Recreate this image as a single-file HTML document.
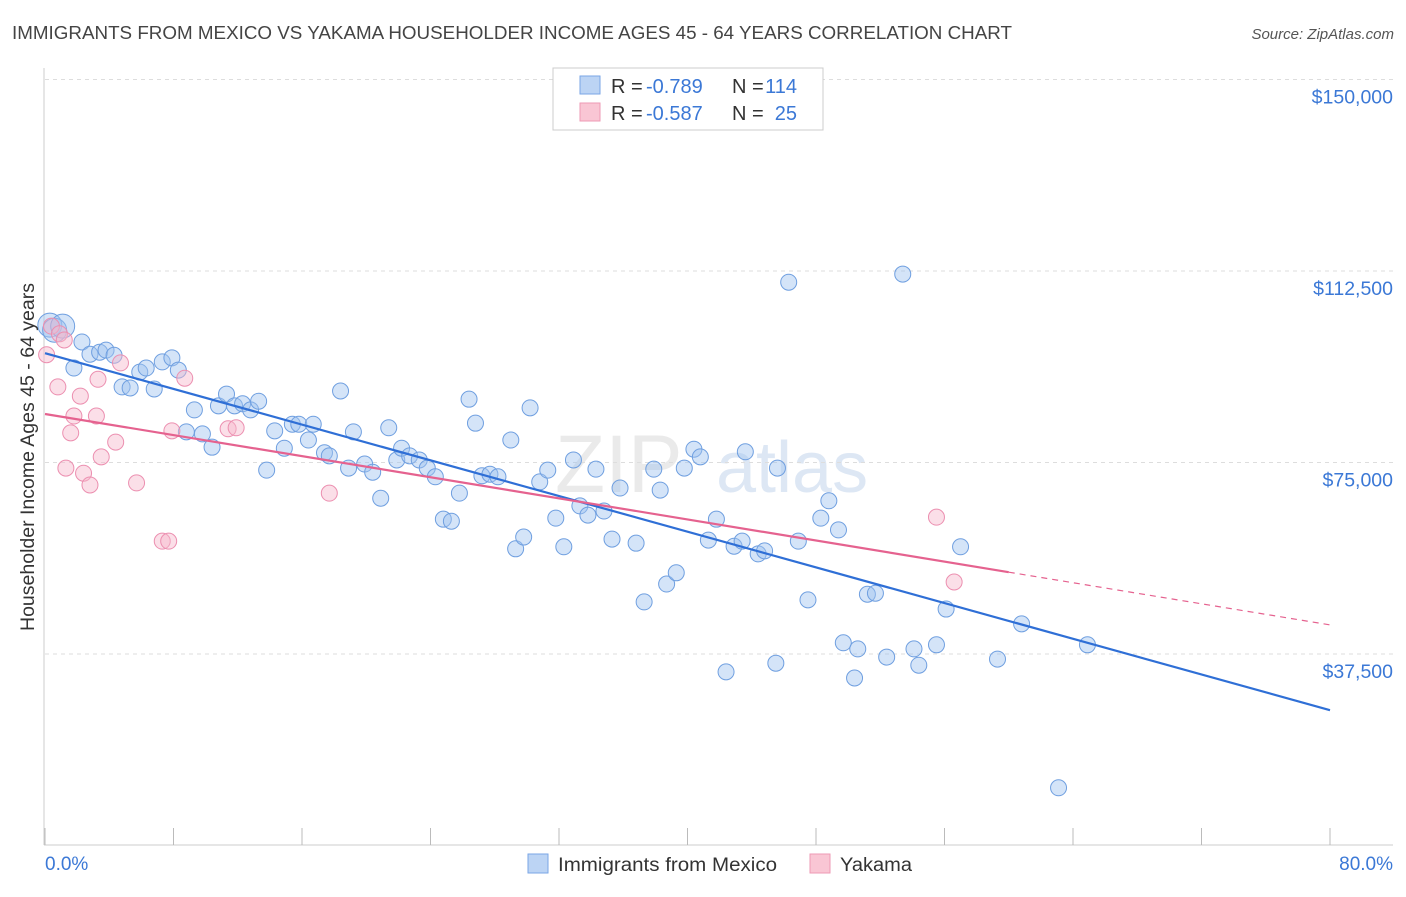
<!DOCTYPE html>
<html><head><meta charset="utf-8"><style>
body{margin:0;background:#fff;font-family:"Liberation Sans",sans-serif;}
svg text{font-family:"Liberation Sans",sans-serif;}
</style></head><body>
<svg id="chart" width="1406" height="892" viewBox="0 0 1406 892" xmlns="http://www.w3.org/2000/svg">
<text x="12" y="39" font-size="18" fill="#444" textLength="1000" lengthAdjust="spacingAndGlyphs">IMMIGRANTS FROM MEXICO VS YAKAMA HOUSEHOLDER INCOME AGES 45 - 64 YEARS CORRELATION CHART</text>
<text x="1394" y="39" font-size="15" fill="#555" text-anchor="end" font-style="italic">Source: ZipAtlas.com</text>
<text x="555" y="492" font-size="82" fill="#ddd" font-family="Liberation Serif" opacity="0.6">ZIP</text>
<text x="716" y="492" font-size="72" fill="#c8d8ee" opacity="0.6">atlas</text>
<g id="grid"></g>
<g id="axes"></g>
<g id="marks"></g>
<g id="lines"></g>
<text transform="translate(34,457) rotate(-90)" font-size="19" fill="#333" text-anchor="middle" textLength="348" lengthAdjust="spacingAndGlyphs">Householder Income Ages 45 - 64 years</text>
<text x="45" y="870" font-size="19" fill="#3b78d6">0.0%</text>
<text x="1393" y="870" font-size="19" fill="#3b78d6" text-anchor="end">80.0%</text>
<g>
<rect x="553" y="68" width="270" height="62" fill="#fff" stroke="#ccc"/>
<rect x="580" y="76" width="20" height="18" fill="#bcd4f4" stroke="#7aa6e6"/>
<rect x="580" y="103" width="20" height="18" fill="#f9c6d4" stroke="#ee9ab4"/>
<text x="611" y="93" font-size="20" fill="#333">R =</text>
<text x="646" y="93" font-size="20" fill="#3b78d6">-0.789</text>
<text x="732" y="93" font-size="20" fill="#333">N =</text>
<text x="797" y="93" font-size="20" fill="#3b78d6" text-anchor="end">114</text>
<text x="611" y="120" font-size="20" fill="#333">R =</text>
<text x="646" y="120" font-size="20" fill="#3b78d6">-0.587</text>
<text x="732" y="120" font-size="20" fill="#333">N =</text>
<text x="797" y="120" font-size="20" fill="#3b78d6" text-anchor="end">25</text>
</g>
<g>
<rect x="528" y="854" width="20" height="19" fill="#bcd4f4" stroke="#7aa6e6"/>
<text x="558" y="871" font-size="19" fill="#333" textLength="219" lengthAdjust="spacingAndGlyphs">Immigrants from Mexico</text>
<rect x="810" y="854" width="20" height="19" fill="#f9c6d4" stroke="#ee9ab4"/>
<text x="840" y="871" font-size="19" fill="#333" textLength="72" lengthAdjust="spacingAndGlyphs">Yakama</text>
</g>
</svg>
<script>
const yTicks=[37500,75000,112500,150000];
const yTickLabels=["$37,500","$75,000","$112,500","$150,000"];
const xTicks=[0,8,16,24,32,40,48,56,64,72,80];
const blueX=[0.3,0.6,1.1,1.8,2.3,2.8,3.4,3.8,4.3,4.8,5.3,5.9,6.3,6.8,7.3,7.9,8.3,8.8,9.3,9.8,10.4,10.8,11.3,11.8,12.3,12.8,13.3,13.8,14.3,14.9,15.4,15.8,16.4,16.7,17.4,17.7,18.4,18.9,19.2,19.9,20.4,20.9,21.4,21.9,22.2,22.7,23.3,23.8,24.3,24.8,25.3,25.8,26.4,26.8,27.2,27.7,28.2,29.0,29.3,29.8,30.2,30.8,31.3,31.8,32.3,32.9,33.3,33.8,34.3,34.8,35.3,35.8,36.8,37.3,37.9,38.3,38.7,39.3,39.8,40.4,40.8,41.3,41.8,42.4,42.9,43.4,43.6,44.4,44.8,45.5,45.6,46.3,46.9,47.5,48.3,48.8,49.4,49.7,50.4,50.6,51.2,51.7,52.4,53.4,54.1,54.4,55.5,56.1,57.0,59.3,60.8,63.1,64.9];
const blueY=[101.9,100.9,101.7,93.5,98.6,96.2,96.6,97.0,96.0,89.8,89.6,92.7,93.5,89.4,94.7,95.5,93.1,81.0,85.3,80.6,78.0,86.1,88.4,86.1,86.5,85.3,87.0,73.5,81.2,77.8,82.5,82.5,79.4,82.5,76.9,76.3,89.0,73.9,81.0,74.7,73.1,68.0,81.8,75.5,77.8,76.3,75.5,73.9,72.2,63.9,63.5,69.0,87.4,82.7,72.4,72.7,72.2,79.4,58.1,60.4,85.7,71.2,73.5,64.1,58.5,75.5,66.5,64.7,73.7,65.5,60.0,70.0,59.2,47.7,73.7,69.6,51.2,53.4,73.9,77.6,76.1,59.8,63.9,34.0,58.6,59.6,77.1,57.1,57.7,35.7,73.9,110.3,59.6,48.1,64.1,67.5,61.8,39.7,32.8,38.5,49.2,49.4,36.9,111.9,38.5,35.3,39.3,46.3,58.5,36.5,43.4,11.3,39.3];
const pinkX=[0.1,0.4,0.9,1.2,0.8,1.3,1.6,1.8,2.2,2.4,2.8,3.2,3.3,3.5,4.4,4.7,5.7,7.3,7.7,7.9,8.7,11.4,11.9,17.7,55.5,56.6];
const pinkY=[96.1,101.7,100.2,99.0,89.8,73.9,80.8,84.1,88.0,72.9,70.6,84.1,91.3,76.1,79.0,94.5,71.0,59.6,59.6,81.2,91.5,81.6,81.8,69.0,64.3,51.6];
const blueTrend=[96.4,26.5];
const pinkTrend=[84.5,43.2];
const pinkSolidEnd=60;
const NS="http://www.w3.org/2000/svg";
function xs(p){return 45+p*(1330-45)/80;}
function ys(v){return 654-(v-37500)*191.5/37500;}
function yk(k){return ys(k*1000);}
function mk(tag,attrs,parent){const e=document.createElementNS(NS,tag);for(const k in attrs)e.setAttribute(k,attrs[k]);parent.appendChild(e);return e;}
const grid=document.getElementById('grid'),axes=document.getElementById('axes'),marks=document.getElementById('marks'),lines=document.getElementById('lines');
yTicks.forEach((t,i)=>{
 const l=mk('line',{x1:45,x2:1393,y1:ys(t),y2:ys(t),stroke:'#ddd','stroke-dasharray':'4,4'},grid);
 
 
 const tx=mk('text',{x:1393,y:ys(t)+24,'font-size':19.5,fill:'#3b78d6','text-anchor':'end'},grid);
 tx.textContent=yTickLabels[i];
 
 
});
const ya=mk('line',{x1:44,x2:44,y1:68,y2:845,stroke:'#ccc'},axes);


const xa=mk('line',{x1:44,x2:1393,y1:845,y2:845,stroke:'#ccc'},axes);


xTicks.forEach(t=>{
 const l=mk('line',{x1:xs(t),x2:xs(t),y1:828,y2:845,stroke:'#bbb'},axes);
 
 
});
blueX.forEach((x,i)=>{
 const c=mk('circle',{cx:xs(x),cy:yk(blueY[i]),r:i<3?12:8,fill:'rgba(160,196,240,0.45)',stroke:'#6f9fe0','stroke-width':1},marks);
 
 
});
pinkX.forEach((x,i)=>{
 const c=mk('circle',{cx:xs(x),cy:yk(pinkY[i]),r:8,fill:'rgba(246,184,204,0.45)',stroke:'#ec8fb0','stroke-width':1},marks);
 
 
});
const bl=mk('line',{x1:xs(0),y1:yk(blueTrend[0]),x2:xs(80),y2:yk(blueTrend[1]),stroke:'#2f6fd6','stroke-width':2.2},lines);


const pm=pinkTrend[0]+(pinkTrend[1]-pinkTrend[0])*pinkSolidEnd/80;
const pl=mk('line',{x1:xs(0),y1:yk(pinkTrend[0]),x2:xs(pinkSolidEnd),y2:yk(pm),stroke:'#e5628f','stroke-width':2.2},lines);


const pd=mk('line',{x1:xs(pinkSolidEnd),y1:yk(pm),x2:xs(80),y2:yk(pinkTrend[1]),stroke:'#e5628f','stroke-width':1.2,'stroke-dasharray':'6,5'},lines);


</script>
</body></html>
